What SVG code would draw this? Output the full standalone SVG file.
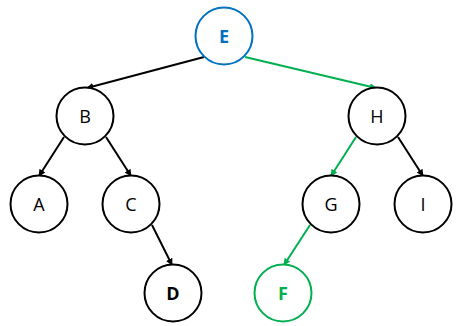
<svg xmlns="http://www.w3.org/2000/svg" width="462" height="326" viewBox="0 0 462 326">
<style>
.n{fill:#fff;stroke:#000;stroke-width:2}
.t{font-family:"Open Sans","DejaVu Sans",sans-serif;font-size:18px;text-anchor:middle;dominant-baseline:central;fill:#000}
.b{font-weight:bold}
.e{stroke:#000;stroke-width:2;fill:none;marker-end:url(#ak)}
.g{stroke:#00B050;stroke-width:2;fill:none;marker-end:url(#ag)}
</style>
<defs>
<marker id="ak" viewBox="0 0 10 10" refX="9" refY="5" markerWidth="3.5" markerHeight="3.5" orient="auto" markerUnits="strokeWidth"><path d="M0,0L10,5L0,10z" fill="#000"/></marker>
<marker id="ag" viewBox="0 0 10 10" refX="9" refY="5" markerWidth="3.5" markerHeight="3.5" orient="auto" markerUnits="strokeWidth"><path d="M0,0L10,5L0,10z" fill="#00B050"/></marker>
</defs>
<g id="edges">
<line class="e" x1="204" y1="57" x2="87" y2="88"/>
<line class="g" x1="245" y1="57" x2="376" y2="88"/>
<line class="e" x1="64" y1="137" x2="39" y2="176"/>
<line class="e" x1="106" y1="137" x2="131" y2="176"/>
<line class="g" x1="356" y1="137" x2="331" y2="176"/>
<line class="e" x1="398" y1="137" x2="423" y2="176"/>
<line class="e" x1="152" y1="225" x2="172" y2="265"/>
<line class="g" x1="310" y1="225" x2="284" y2="265"/>
</g>
<g id="E"><circle class="n" cx="224" cy="36" r="28.5" style="stroke:#0070C0"/><text class="t b" x="224" y="36" style="fill:#0070C0">E</text></g>
<g id="B"><circle class="n" cx="85" cy="116" r="28.5"/><text class="t" x="85" y="116">B</text></g>
<g id="H"><circle class="n" cx="377" cy="116" r="28.5"/><text class="t" x="377" y="116">H</text></g>
<g id="A"><circle class="n" cx="39" cy="204" r="28.5"/><text class="t" x="39" y="204">A</text></g>
<g id="C"><circle class="n" cx="131" cy="204" r="28.5"/><text class="t" x="131" y="204">C</text></g>
<g id="G"><circle class="n" cx="331" cy="204" r="28.5"/><text class="t" x="331" y="204">G</text></g>
<g id="I"><circle class="n" cx="423" cy="204" r="28.5"/><text class="t" x="423" y="204">I</text></g>
<g id="D"><circle class="n" cx="173" cy="293" r="28.5"/><text class="t b" x="173" y="293">D</text></g>
<g id="F"><circle class="n" cx="283" cy="293" r="28.5" style="stroke:#00B050"/><text class="t b" x="283" y="293" style="fill:#00B050">F</text></g>
</svg>
